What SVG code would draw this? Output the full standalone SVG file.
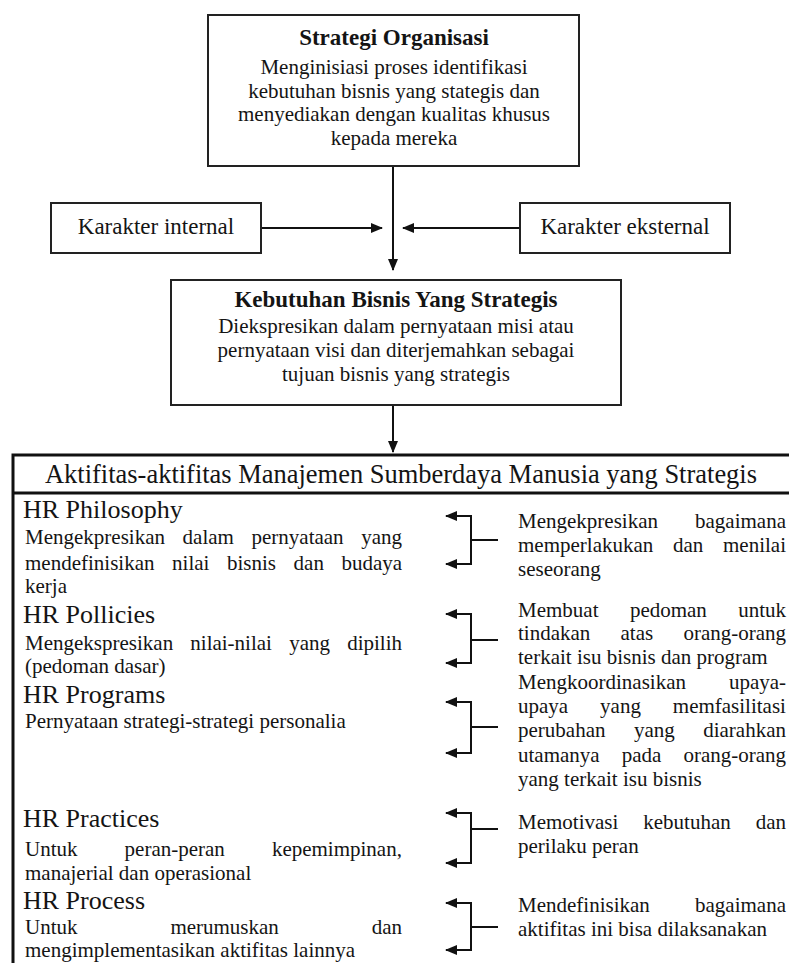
<svg xmlns="http://www.w3.org/2000/svg" width="789" height="963" viewBox="0 0 789 963">
<defs>
<style>
text{font-family:"Liberation Serif","Times New Roman",serif;fill:#141414}
.box{fill:#fff;stroke:#222;stroke-width:2}
.big{fill:none;stroke:#111;stroke-width:3}
.c{fill:none;stroke:#111;stroke-width:2}
.t{font-size:23px;font-weight:bold;text-anchor:middle}
.b{font-size:21px}
.m{text-anchor:middle}
.k{font-size:23px;text-anchor:middle}
.h{font-size:26px}
.hd{font-size:27px;text-anchor:middle}
</style>
<marker id="ar" viewBox="0 0 12 10" refX="11" refY="5" markerWidth="12" markerHeight="10" markerUnits="userSpaceOnUse" orient="auto-start-reverse">
<path d="M0,0 L12,5 L0,10 z" fill="#111"/>
</marker>
</defs>
<rect width="789" height="963" fill="#fff"/>

<g id="connectors">
<path class="c" d="M393,166 V270" marker-end="url(#ar)"/>
<path class="c" d="M261,228 H382" marker-end="url(#ar)"/>
<path class="c" d="M520,228 H403" marker-end="url(#ar)"/>
<path class="c" d="M393,405 V452" marker-end="url(#ar)"/>
<path class="c" d="M446,516 H471 V564 H446" marker-start="url(#ar)" marker-end="url(#ar)"/>
<path class="c" d="M471,540 H498"/>
<path class="c" d="M446,614 H471 V663 H446" marker-start="url(#ar)" marker-end="url(#ar)"/>
<path class="c" d="M471,640 H498"/>
<path class="c" d="M446,702 H471 V753 H446" marker-start="url(#ar)" marker-end="url(#ar)"/>
<path class="c" d="M471,727 H498"/>
<path class="c" d="M446,813 H471 V863 H446" marker-start="url(#ar)" marker-end="url(#ar)"/>
<path class="c" d="M471,829 H498"/>
<path class="c" d="M446,903 H471 V950 H446" marker-start="url(#ar)" marker-end="url(#ar)"/>
<path class="c" d="M471,927 H498"/>
</g>

<g id="strategi-organisasi">
<rect class="box" x="208" y="15" width="371" height="151"/>
<text class="t" x="394" y="45">Strategi Organisasi</text>
<text class="b m" x="394" y="74">Menginisiasi proses identifikasi</text>
<text class="b m" x="394" y="97.5">kebutuhan bisnis yang stategis dan</text>
<text class="b m" x="394" y="121">menyediakan dengan kualitas khusus</text>
<text class="b m" x="394" y="144.5">kepada mereka</text>
</g>

<g id="karakter-internal">
<rect class="box" x="51" y="203" width="210" height="50"/>
<text class="k" x="156" y="234">Karakter internal</text>
</g>

<g id="karakter-eksternal">
<rect class="box" x="520" y="203" width="210" height="50"/>
<text class="k" x="625" y="234">Karakter eksternal</text>
</g>

<g id="kebutuhan-bisnis">
<rect class="box" x="171" y="280" width="450" height="125"/>
<text class="t" x="396" y="307">Kebutuhan Bisnis Yang Strategis</text>
<text class="b m" x="396" y="333">Diekspresikan dalam pernyataan misi atau</text>
<text class="b m" x="396" y="357">pernyataan visi dan diterjemahkan sebagai</text>
<text class="b m" x="396" y="381">tujuan bisnis yang strategis</text>
</g>

<g id="aktifitas-msdm">
<rect class="big" x="13" y="455" width="800" height="540"/>
<path class="big" d="M13,493 H789"/>
<text class="hd" x="401" y="483" textLength="712" lengthAdjust="spacingAndGlyphs">Aktifitas-aktifitas Manajemen Sumberdaya Manusia yang Strategis</text>
</g>

<g id="hr-philosophy">
<text class="h" x="23" y="518">HR Philosophy</text>
<text class="b" y="544"><tspan x="25">Mengekpresikan</tspan><tspan x="182.6">dalam</tspan><tspan x="251.5">pernyataan</tspan><tspan x="361.2">yang</tspan></text>
<text class="b" y="570"><tspan x="25">mendefinisikan</tspan><tspan x="172.1">nilai</tspan><tspan x="227">bisnis</tspan><tspan x="293.6">dan</tspan><tspan x="341.5">budaya</tspan></text>
<text class="b" x="25" y="593">kerja</text>
<text class="b" y="528"><tspan x="518">Mengekpresikan</tspan><tspan x="695">bagaimana</tspan></text>
<text class="b" y="552"><tspan x="518">memperlakukan</tspan><tspan x="673">dan</tspan><tspan x="723">menilai</tspan></text>
<text class="b" x="518" y="576">seseorang</text>
</g>

<g id="hr-pollicies">
<text class="h" x="23" y="623">HR Pollicies</text>
<text class="b" y="650"><tspan x="25">Mengekspresikan</tspan><tspan x="190.3">nilai-nilai</tspan><tspan x="289.2">yang</tspan><tspan x="347.2">dipilih</tspan></text>
<text class="b" x="25" y="673">(pedoman dasar)</text>
<text class="b" y="617"><tspan x="518">Membuat</tspan><tspan x="629.9">pedoman</tspan><tspan x="738.2">untuk</tspan></text>
<text class="b" y="640"><tspan x="518">tindakan</tspan><tspan x="620.5">atas</tspan><tspan x="683.4">orang-orang</tspan></text>
<text class="b" x="518" y="664">terkait isu bisnis dan program</text>
</g>

<g id="hr-programs">
<text class="h" x="23" y="703">HR Programs</text>
<text class="b" x="25" y="728">Pernyataan strategi-strategi personalia</text>
<text class="b" y="689"><tspan x="518">Mengkoordinasikan</tspan><tspan x="728.9">upaya-</tspan></text>
<text class="b" y="713"><tspan x="518">upaya</tspan><tspan x="600.1">yang</tspan><tspan x="672.8">memfasilitasi</tspan></text>
<text class="b" y="737"><tspan x="518">perubahan</tspan><tspan x="634">yang</tspan><tspan x="703.2">diarahkan</tspan></text>
<text class="b" y="762"><tspan x="518">utamanya</tspan><tspan x="621.7">pada</tspan><tspan x="683.4">orang-orang</tspan></text>
<text class="b" x="518" y="786">yang terkait isu bisnis</text>
</g>

<g id="hr-practices">
<text class="h" x="23" y="827">HR Practices</text>
<text class="b" y="856"><tspan x="25">Untuk</tspan><tspan x="124.6">peran-peran</tspan><tspan x="271.9">kepemimpinan,</tspan></text>
<text class="b" x="25" y="880">manajerial dan operasional</text>
<text class="b" y="829"><tspan x="518">Memotivasi</tspan><tspan x="643.3">kebutuhan</tspan><tspan x="755.7">dan</tspan></text>
<text class="b" x="518" y="853">perilaku peran</text>
</g>

<g id="hr-process">
<text class="h" x="23" y="909">HR Process</text>
<text class="b" y="934"><tspan x="25">Untuk</tspan><tspan x="170.4">merumuskan</tspan><tspan x="371.7">dan</tspan></text>
<text class="b" x="25" y="957">mengimplementasikan aktifitas lainnya</text>
<text class="b" y="912"><tspan x="518">Mendefinisikan</tspan><tspan x="695">bagaimana</tspan></text>
<text class="b" x="518" y="936">aktifitas ini bisa dilaksanakan</text>
</g>
</svg>
